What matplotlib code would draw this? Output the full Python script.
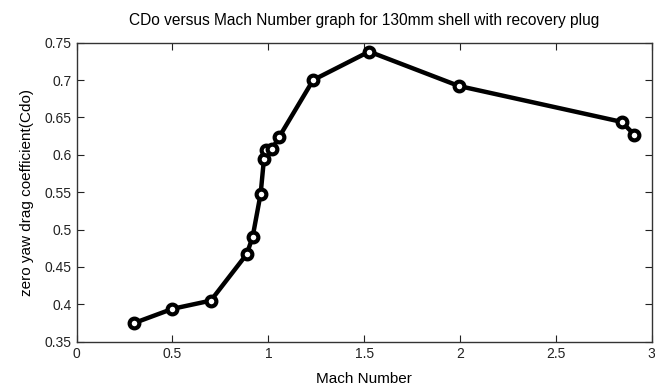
import matplotlib
matplotlib.use("Agg")
import matplotlib.pyplot as plt

# Mach number vs zero-yaw drag coefficient
mach = [0.30, 0.50, 0.70, 0.887, 0.918, 0.96, 0.977, 0.99, 1.02, 1.057,
        1.234, 1.526, 1.994, 2.843, 2.909]
cdo = [0.375, 0.394, 0.405, 0.467, 0.490, 0.548, 0.594, 0.607, 0.608, 0.624,
       0.700, 0.738, 0.692, 0.644, 0.627]

x_ticks = [0, 0.5, 1, 1.5, 2, 2.5, 3]
x_tick_labels = ["0", "0.5", "1", "1.5", "2", "2.5", "3"]
y_ticks = [0.35, 0.4, 0.45, 0.5, 0.55, 0.6, 0.65, 0.7, 0.75]
y_tick_labels = ["0.35", "0.4", "0.45", "0.5", "0.55", "0.6", "0.65", "0.7", "0.75"]

plt.rcParams["font.family"] = ["Liberation Sans", "DejaVu Sans"]

figure = plt.figure(figsize=(6.55, 3.91), dpi=100)
axis = figure.add_axes([0.117, 0.126, 0.878, 0.765])

axis.plot(mach, cdo, color="black", linewidth=3.2, marker="o",
          markersize=7, markerfacecolor="white", markeredgecolor="black",
          markeredgewidth=3.0, solid_joinstyle="round")

axis.set_xlim(0, 3)
axis.set_ylim(0.35, 0.75)
axis.set_xticks(x_ticks)
axis.set_xticklabels(x_tick_labels)
axis.set_yticks(y_ticks)
axis.set_yticklabels(y_tick_labels)
axis.tick_params(direction="in", top=True, right=True, length=5, width=0.8,
                 labelsize=10, colors="#222222")
for spine in axis.spines.values():
    spine.set_linewidth(1.0)
    spine.set_color("#333333")

axis.set_xlabel("Mach Number", fontsize=11, labelpad=8)
axis.set_ylabel("zero yaw drag coefficient(Cdo)", fontsize=11, labelpad=8)
axis.set_title("CDo versus Mach Number graph for 130mm shell with recovery plug",
               fontsize=11.2, pad=13)

figure.savefig("out.png", dpi=100)
